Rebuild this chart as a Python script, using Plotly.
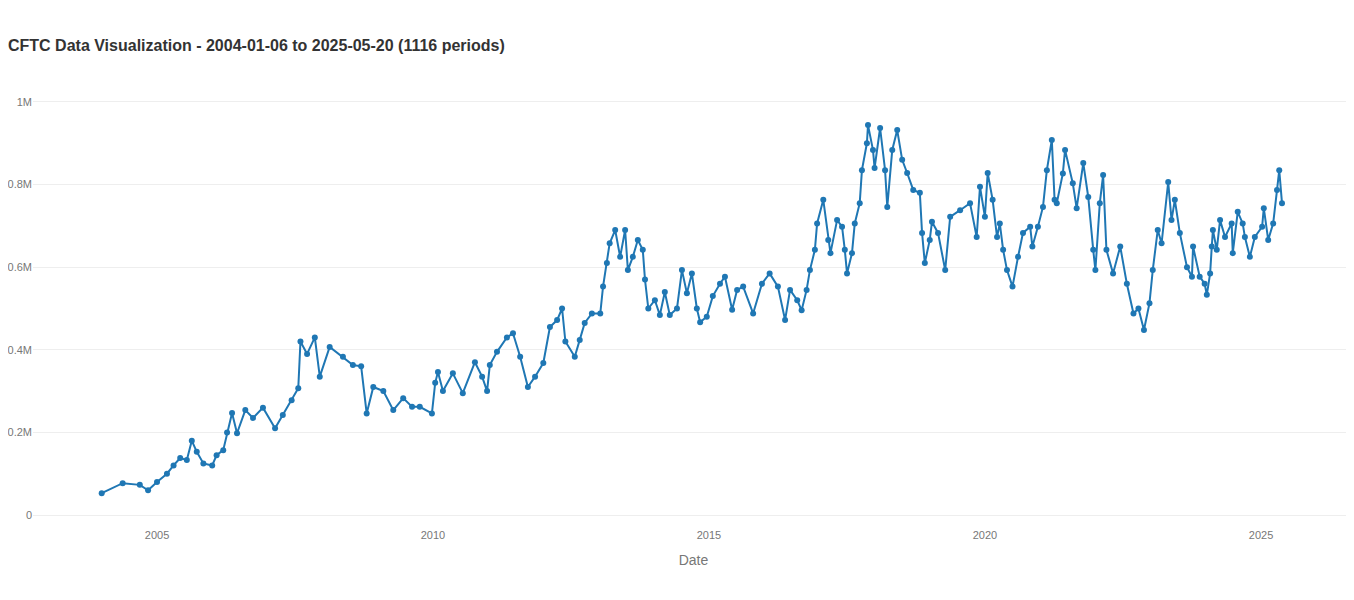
import plotly.graph_objects as go
import pandas as pd

# Readings: decimal-year positions and values (millions)
years = [
 2004.0,2004.38,2004.69,2004.84,2005.0,2005.18,2005.3,2005.42,2005.54,2005.63,2005.72,2005.84,
 2006.0,2006.08,2006.2,2006.27,2006.36,2006.45,2006.6,2006.74,2006.92,2007.14,2007.28,2007.44,
 2007.56,2007.6,2007.72,2007.86,2007.95,2008.13,2008.37,2008.55,2008.7,2008.8,2008.92,2009.1,
 2009.28,2009.46,2009.62,2009.76,2009.98,2010.04,2010.09,2010.18,2010.36,2010.54,2010.76,2010.89,
 2010.98,2011.03,2011.16,2011.34,2011.45,2011.58,2011.72,2011.85,2012.0,2012.12,2012.25,2012.34,
 2012.4,2012.57,2012.66,2012.75,2012.88,2013.03,2013.08,2013.15,2013.2,2013.3,2013.39,2013.48,
 2013.53,2013.62,2013.71,2013.8,2013.84,2013.9,2014.02,2014.11,2014.2,2014.29,2014.42,2014.51,
 2014.6,2014.69,2014.78,2014.84,2014.96,2015.07,2015.2,2015.29,2015.42,2015.51,2015.62,2015.8,
 2015.96,2016.1,2016.25,2016.38,2016.47,2016.6,2016.68,2016.77,2016.83,2016.92,2016.96,2017.07,
 2017.16,2017.2,2017.32,2017.41,2017.46,2017.5,2017.59,2017.64,2017.73,2017.77,2017.86,2017.88,
 2017.97,2018.0,2018.1,2018.19,2018.23,2018.32,2018.41,2018.5,2018.59,2018.7,2018.82,2018.86,
 2018.91,2019.0,2019.04,2019.15,2019.28,2019.37,2019.55,2019.73,2019.85,2019.91,2020.0,2020.05,
 2020.14,2020.22,2020.27,2020.33,2020.4,2020.5,2020.6,2020.69,2020.82,2020.86,2020.96,2021.05,
 2021.12,2021.21,2021.26,2021.3,2021.41,2021.45,2021.59,2021.66,2021.78,2021.87,2021.96,2022.0,
 2022.08,2022.14,2022.2,2022.32,2022.45,2022.57,2022.69,2022.78,2022.88,2022.98,2023.04,2023.13,
 2023.2,2023.32,2023.38,2023.44,2023.53,2023.66,2023.75,2023.77,2023.89,2023.98,2024.02,2024.08,
 2024.11,2024.13,2024.2,2024.26,2024.35,2024.47,2024.49,2024.58,2024.67,2024.71,2024.8,2024.89,
 2025.02,2025.05,2025.13,2025.22,2025.29,2025.33,2025.38,
]
values_m = [
 .053,.077,.073,.06,.08,.10,.12,.138,.133,.18,.153,.125,
 .12,.145,.157,.20,.247,.198,.254,.235,.26,.21,.242,.278,
 .307,.42,.39,.43,.335,.407,.383,.363,.36,.246,.31,.30,
 .254,.283,.262,.262,.246,.32,.346,.30,.343,.295,.37,.335,
 .30,.363,.395,.43,.44,.383,.31,.335,.368,.455,.472,.50,
 .42,.383,.424,.465,.488,.488,.553,.61,.658,.69,.625,.69,
 .593,.625,.666,.642,.57,.50,.52,.484,.54,.484,.50,.593,
 .537,.585,.50,.467,.48,.53,.56,.577,.497,.545,.553,.488,
 .56,.585,.553,.472,.545,.52,.496,.545,.593,.642,.706,.763,
 .666,.634,.714,.698,.642,.585,.634,.706,.755,.835,.90,.944,
 .884,.84,.937,.835,.746,.884,.932,.86,.828,.787,.78,.683,
 .61,.666,.71,.683,.593,.722,.738,.755,.673,.795,.722,.828,
 .763,.673,.706,.642,.593,.553,.625,.683,.698,.65,.698,.746,
 .835,.908,.763,.755,.827,.884,.803,.743,.852,.77,.642,.593,
 .755,.823,.642,.585,.65,.56,.488,.50,.448,.513,.593,.69,
 .658,.806,.714,.763,.683,.60,.577,.65,.577,.56,.533,.585,
 .65,.69,.642,.714,.673,.706,.634,.734,.706,.673,.625,.673,
 .698,.743,.666,.706,.787,.835,.755,
]

def to_date(y):
    start = pd.Timestamp(year=int(y), month=1, day=1)
    return start + pd.Timedelta(days=(y - int(y)) * 365.25)

dates = [to_date(y) for y in years]
values = [v * 1e6 for v in values_m]

fig = go.Figure(go.Scatter(
    x=dates, y=values, mode="lines+markers",
    line=dict(color="#1f77b4", width=2),
    marker=dict(color="#1f77b4", size=6),
))
fig.update_layout(
    template="plotly_white",
    width=1354, height=600,
    title=dict(text="<b>CFTC Data Visualization - 2004-01-06 to 2025-05-20 (1116 periods)</b>",
               x=0, xanchor="left", xref="container", pad=dict(l=0),
               y=0.938, yanchor="middle",
               font=dict(size=16, color="#333", family="Liberation Sans, Arial")),
    font=dict(family="Liberation Sans, Arial", color="#777", size=11),
    margin=dict(l=25, r=8, t=82, b=81, autoexpand=False),
    showlegend=False,
    xaxis=dict(title=dict(text="Date", font=dict(size=14, color="#777")),
               range=[to_date(2002.754), to_date(2026.685)], showgrid=False,
               showline=False, ticks="", automargin=False),
    yaxis=dict(range=[-0.029e6, 1.029e6], tickvals=[0, 0.2e6, 0.4e6, 0.6e6, 0.8e6, 1e6],
               ticktext=["0", "0.2M", "0.4M", "0.6M", "0.8M", "1M"],
               gridcolor="#eee", zeroline=False, automargin=False),
)
fig.write_html("out.html")
